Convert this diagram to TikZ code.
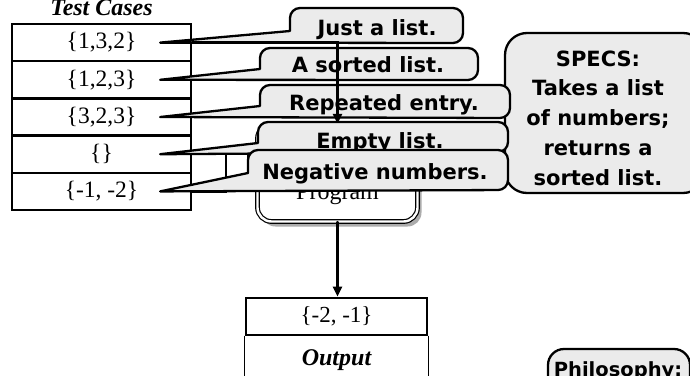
\documentclass[tikz,border=0pt]{standalone}
\usepackage{fontspec}
\setmainfont{Liberation Serif}
\newfontfamily\comicfont{DejaVu Sans}
\usetikzlibrary{arrows.meta}
\usetikzlibrary{calc}
\usetikzlibrary{shadows}
\definecolor{bubblegrey}{HTML}{EBEBEB}

\tikzset{
    cell/.style={draw, line width=2.3pt, minimum width=179pt, minimum height=37.2pt, inner sep=0pt, font=\fontsize{23.5}{26}\selectfont},
    bubble/.style={draw, line width=2.3pt, fill=bubblegrey, line join=round},
    saying/.style={anchor=base, inner sep=0pt, font=\comicfont\bfseries\fontsize{21}{24}\selectfont},
    caption/.style={anchor=base, inner sep=0pt, font=\bfseries\itshape\fontsize{24}{26}\selectfont},
    flow/.style={line width=2.5pt, -{Triangle[length=10pt, width=9pt]}},
}

\begin{document}
\begin{tikzpicture}[x=1pt, y=-1pt, line cap=round]
    \useasboundingbox (0, 0) rectangle (690, 375);
    \clip (0, 0) rectangle (690, 375);

    % test cases
    \node[caption] (title) at (101.5, 15) {Test Cases};
    \foreach \case [count=\i] in {{\{1,3,2\}}, {\{1,2,3\}}, {\{3,2,3\}}, {\{\}}, {\{-1, -2\}}} {
        \node[cell] (row\i) at (101.5, {24 + 37.2*(\i - 0.5)}) {\case};
    }

    % program and output
    \node[draw, double, double distance=2.4pt, line width=1.2pt, fill=white, rounded corners=14pt, inner sep=0pt,
          minimum width=160pt, minimum height=97pt,
          drop shadow={shadow xshift=4pt, shadow yshift=-5pt, fill=gray!65, opacity=1}] (prog) at (337.5, 173) {};
    \node[anchor=base, inner sep=0pt, font=\fontsize{24}{28}\selectfont] (progname) at (337.5, 199) {Program};

    \node[draw, line width=2.8pt, minimum width=181pt, minimum height=37pt, inner sep=0pt, font=\fontsize{23}{26}\selectfont] (result) at (336.5, 316.5) {\{-2, -1\}};
    \draw[line width=1pt] (result.south west) -- ++(0, 60);
    \draw[line width=1pt] (result.south east) -- ++(0, 60);
    \node[caption] (outname) at (336.5, 365) {Output};
    \draw[flow] (prog.south) -- (prog.south |- result.north);

    % specs and philosophy
    \draw[bubble, rounded corners=22pt] (505, 33) rectangle (705, 193);
    \foreach \phrase [count=\k] in {SPECS:, Takes a list, of numbers;, returns a, sorted list.}
        \node[saying] (spec\k) at (598, {66 + 29.75*(\k - 1)}) {\phrase};
    \draw[bubble, rounded corners=16pt] (548, 349) rectangle (690, 440);
    \node[saying, font=\comicfont\bfseries\fontsize{19.5}{24}\selectfont] (philo) at (618, 376) {Philosophy:};

    % callouts on the test cases
    \foreach \i/\xl/\yt/\xr/\yb/\ya/\xc/\yc/\words in {1/290/8/463/43/31/377/35/Just a list., 2/260/48/478/80/69/368/72/A sorted list., 3/260/85/510/118/106/384/110/Repeated entry.} {
        \draw[bubble] ($(row\i.east) + (-32, 0)$) -- (\xl, \ya) [rounded corners=10pt] -- (\xl, \yt) -- (\xr, \yt) -- (\xr, \yb) -- ($(row\i.east) + (-32, 0)$);
        \node[saying] (say\i) at (\xc, \yc) {\words};
    }

    \draw[flow] (row1.east) -| (prog.north);
    \coordinate (bend) at (248, 173);
    \draw[line width=2.3pt, -{Triangle[length=6pt, width=7pt]}] (row4.east) -| (bend) -- (bend -| prog.west);
    \draw[line width=2.3pt] (row5.east) -| ($(row4.east) + (34, 0)$);

    \foreach \i/\xl/\yt/\xr/\yb/\ya/\xc/\yc/\words in {4/258/122/508/152/143/380/148/Empty list., 5/248/150/508/190/173/375/179/Negative numbers.} {
        \draw[bubble] ($(row\i.east) + (-32, 0)$) -- (\xl, \ya) [rounded corners=10pt] -- (\xl, \yt) -- (\xr, \yt) -- (\xr, \yb) -- ($(row\i.east) + (-32, 0)$);
        \node[saying] (say\i) at (\xc, \yc) {\words};
    }
\end{tikzpicture}
\end{document}
